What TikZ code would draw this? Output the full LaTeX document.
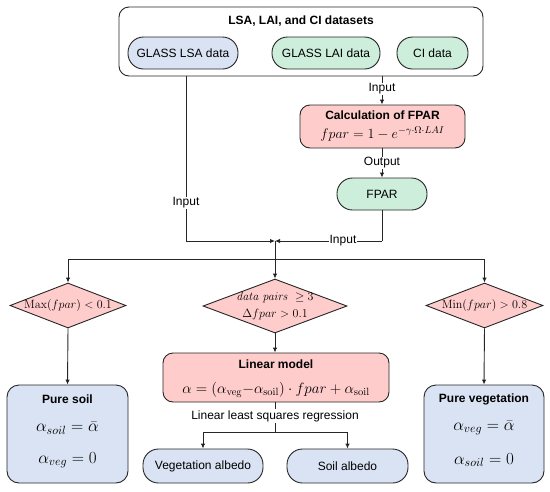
\documentclass[tikz,border=0pt]{standalone}
\usepackage{fix-cm}
\usepackage[no-math]{fontspec}
\setmainfont{Liberation Sans}
\usetikzlibrary{arrows.meta,shapes.geometric,positioning}

\definecolor{lsablue}{HTML}{DAE3F3}
\definecolor{laigreen}{HTML}{CCEEDB}
\definecolor{calcpink}{HTML}{FFCCCC}

\begin{document}
\begin{tikzpicture}
%Albedo decomposition flow chart
	[
	 	 %Styles
       x=1pt,y=-1pt,
       >={Latex[length=5pt,width=4.5pt]},
       font=\fontsize{12}{14}\selectfont,
       line_main/.style={draw=black!85,line width=0.9pt},
       group_box/.style={rectangle,rounded corners=10pt,line_main,fill=white,minimum width=364pt,minimum height=69pt},
       data_pill/.style={rectangle,rounded corners=15.5pt,line_main,minimum height=32pt,inner sep=0pt},
       process_box/.style={rectangle,rounded corners=10pt,line_main,fill=calcpink,inner sep=0pt},
       result_box/.style={rectangle,rounded corners=12pt,line_main,fill=lsablue,minimum width=121pt,minimum height=98pt,inner sep=0pt},
       cond_node/.style={diamond,line_main,fill=calcpink,inner sep=0pt},
       label_simple/.style={fill=white,inner sep=1pt},
       eq_big/.style={font=\fontsize{17}{20}\selectfont,inner sep=1pt}
    ]

    \useasboundingbox (0,0) rectangle (550,491);

    %Node placement
    %Level 1: datasets
    \node (datasets) [group_box] at (301,41.5) {};
    \node (datasets_title) at (301,21) {\bfseries LSA, LAI, and CI datasets};
    \node (lsa) [data_pill,fill=lsablue,minimum width=110pt] at (183,53) {GLASS LSA data};
    \node (lai) [data_pill,fill=laigreen,minimum width=108pt] at (326,53) {GLASS LAI data};
    \node (ci) [data_pill,fill=laigreen,minimum width=71pt] at (432.5,53) {CI data};

    %Level 2: FPAR
    \node (calc) [process_box,minimum width=165pt,minimum height=43pt] at (382.5,126.5) {};
    \node (calc_title) at (382.5,115) {\bfseries Calculation of FPAR};
    \node (calc_eq) [inner sep=1pt] at (382.5,134) {\fontsize{14}{16}\selectfont $fpar = 1 - e^{-\gamma\cdot\Omega\cdot LAI}$};
    \node (fpar) [data_pill,fill=laigreen,minimum width=90pt] at (382,194) {FPAR};
    \coordinate (join) at (275,241);
    \coordinate (lsa_turn) at (186,241);
    \coordinate (fpar_turn) at (382,241);
    \coordinate (split) at (275,259);

    %Level 3: conditions
    \node (cond_soil) [cond_node,minimum width=116pt,minimum height=45pt] at (68,305.5) {};
    \node (cond_soil_text) at (68,305.5) {$\mathrm{Max}(fpar) < 0.1$};
    \node (cond_mix) [cond_node,minimum width=144pt,minimum height=54pt] at (275,306) {};
    \node (cond_mix_a) [inner sep=1pt] at (275,297) {$\mathit{data\ pairs}\ \geq 3$};
    \node (cond_mix_b) [inner sep=1pt] at (275,314) {$\Delta fpar > 0.1$};
    \node (cond_veg) [cond_node,minimum width=117pt,minimum height=45pt] at (484.5,305.5) {};
    \node (cond_veg_text) at (484.5,305.5) {$\mathrm{Min}(fpar) > 0.8$};

    %Level 4: results
    \node (soil) [result_box] at (67.5,434) {};
    \node (soil_title) at (67.5,399) {\bfseries Pure soil};
    \node (soil_eq1) [eq_big] at (67.5,428) {$\alpha_{soil} = \bar{\alpha}$};
    \node (soil_eq2) [eq_big] at (67.5,460) {$\alpha_{veg} = 0$};
    \node (veg) [result_box,minimum width=120pt] at (484,434) {};
    \node (veg_title) at (484,399) {\bfseries Pure vegetation};
    \node (veg_eq1) [eq_big] at (484,428) {$\alpha_{veg} = \bar{\alpha}$};
    \node (veg_eq2) [eq_big] at (484,460) {$\alpha_{soil} = 0$};
    \node (linear) [process_box,minimum width=226pt,minimum height=49pt] at (276,377.5) {};
    \node (linear_title) at (276,364) {\bfseries Linear model};
    \node (linear_eq) [inner sep=1pt] at (276,390) {\fontsize{15}{18}\selectfont $\alpha = (\alpha_{\mathrm{veg}} {-} \alpha_{\mathrm{soil}})\cdot fpar + \alpha_{\mathrm{soil}}$};
    \coordinate (reg_split) at (275,432);
    \node (veg_albedo) [data_pill,fill=lsablue,minimum width=120pt,minimum height=34pt] at (203,466) {Vegetation albedo};
    \node (soil_albedo) [data_pill,fill=lsablue,minimum width=121pt,minimum height=34pt] at (347.5,466) {Soil albedo};

   %Edges
   \path[line_main]
       (datasets.south -| lsa_turn) edge (lsa_turn)
       (lsa_turn) edge [->] (join)
       (datasets.south -| fpar) edge [->] (calc.north -| fpar)
       (calc.south -| fpar) edge [->] (fpar.north)
       (fpar.south) edge (fpar_turn)
       (fpar_turn) edge [->] (join)
       (join) edge (split)
       (split -| cond_soil) edge (split -| cond_veg)
       (split -| cond_soil) edge [->] (cond_soil.north)
       (split -| cond_veg) edge [->] (cond_veg.north)
       (split) edge [->] (cond_mix.north)
       (cond_soil.south) edge [->] (soil.north)
       (cond_veg.south) edge [->] (veg.north)
       (cond_mix.south) edge [->] (linear.north -| cond_mix)
       (linear.south -| reg_split) edge (reg_split)
       (reg_split -| veg_albedo) edge (reg_split -| soil_albedo)
       (reg_split -| veg_albedo) edge [->] (veg_albedo.north)
       (reg_split -| soil_albedo) edge [->] (soil_albedo.north);

   %Edge labels
   \node (lsa_input) [label_simple] at (186,203) {Input};
   \node (lai_input) [label_simple] at (382,89) {Input};
   \node (calc_output) [label_simple] at (382,163) {Output};
   \node (fpar_input) [label_simple] at (343,241) {Input};
   \node (regression) [label_simple] at (275,416) {Linear least squares regression};
\end{tikzpicture}
\end{document}
